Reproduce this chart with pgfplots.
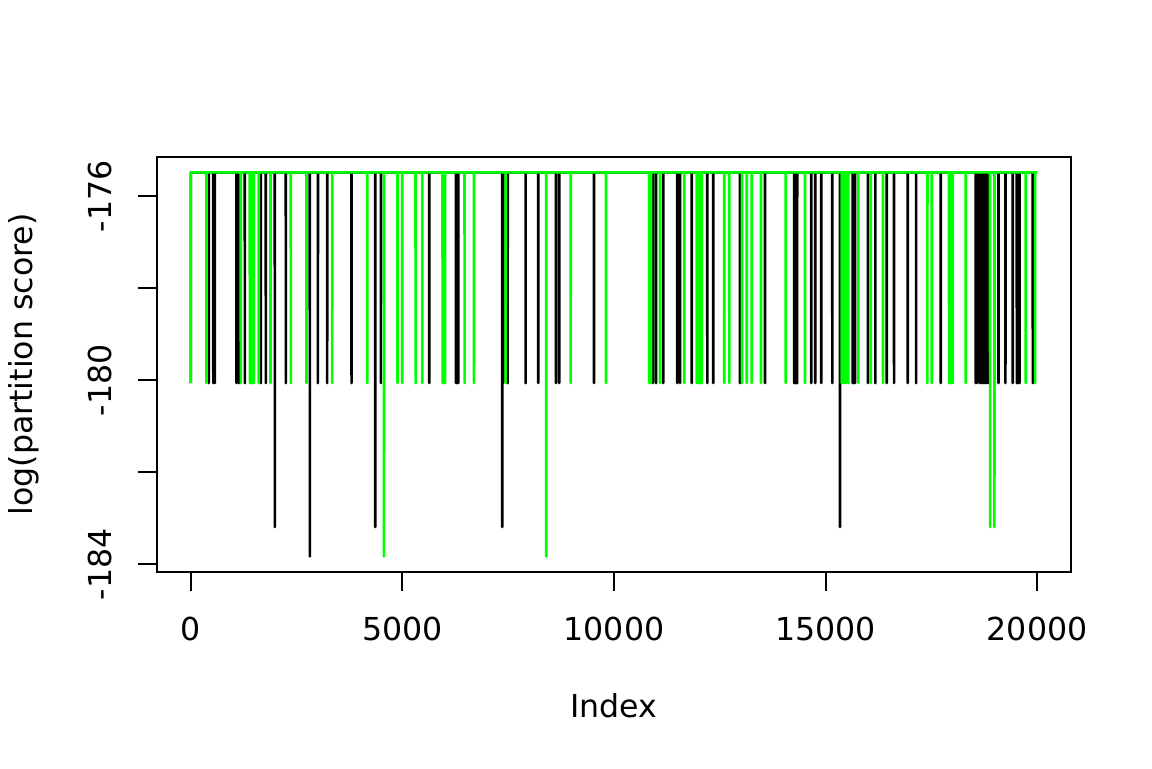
\documentclass[border=0pt]{standalone}
\usepackage{fontspec}
\setmainfont{DejaVu Sans}
\usepackage{pgfplots}
\usepackage{pgfplotstable}
\pgfplotsset{compat=1.18}
\definecolor{rgreen}{RGB}{0,255,0}
% T = -175.48 (plateau), L = -180.06, D1 = -183.19, D2 = -183.83
\pgfplotstableread{
x y
1 -180.06
2 -175.48
425 -175.48
426 -180.06
427 -175.48
531 -175.48
532 -180.06
533 -175.48
566 -175.48
567 -180.06
568 -175.48
1079 -175.48
1080 -180.06
1081 -175.48
1134 -175.48
1135 -180.06
1136 -175.48
1276 -175.48
1277 -180.06
1278 -175.48
1654 -175.48
1655 -180.06
1656 -175.48
1772 -175.48
1773 -180.06
1774 -175.48
1985 -175.48
1986 -183.19
1987 -175.48
2245 -175.48
2246 -180.06
2247 -175.48
2812 -175.48
2813 -183.83
2814 -175.48
3002 -175.48
3003 -180.06
3004 -175.48
3221 -175.48
3222 -180.06
3223 -175.48
3798 -175.48
3799 -180.06
3800 -175.48
4356 -175.48
4357 -183.19
4358 -175.48
4491 -175.48
4492 -180.06
4493 -175.48
5632 -175.48
5633 -180.06
5634 -175.48
6264 -175.48
6265 -180.06
6266 -175.48
6289 -175.48
6290 -180.06
6291 -175.48
6318 -175.48
6319 -180.06
6320 -175.48
7358 -175.48
7359 -183.19
7360 -175.48
7382 -175.48
7383 -180.06
7384 -175.48
7486 -175.48
7487 -180.06
7488 -175.48
7911 -175.48
7912 -180.06
7913 -175.48
8209 -175.48
8210 -180.06
8211 -175.48
8628 -175.48
8629 -180.06
8630 -175.48
8706 -175.48
8707 -180.06
8708 -175.48
9526 -175.48
9527 -180.06
9528 -175.48
10914 -175.48
10915 -180.06
10916 -175.48
10992 -175.48
10993 -180.06
10994 -175.48
11164 -175.48
11165 -180.06
11166 -175.48
11495 -175.48
11496 -180.06
11497 -175.48
11559 -175.48
11560 -180.06
11561 -175.48
11836 -175.48
11837 -180.06
11838 -175.48
12205 -175.48
12206 -180.06
12207 -175.48
12346 -175.48
12347 -180.06
12348 -175.48
12977 -175.48
12978 -180.06
12979 -175.48
13568 -175.48
13569 -180.06
13570 -175.48
14256 -175.48
14257 -180.06
14258 -175.48
14280 -175.48
14281 -180.06
14282 -175.48
14304 -175.48
14305 -180.06
14306 -175.48
14327 -175.48
14328 -180.06
14329 -175.48
14660 -175.48
14661 -180.06
14662 -175.48
14754 -175.48
14755 -180.06
14756 -175.48
14896 -175.48
14897 -180.06
14898 -175.48
15159 -175.48
15160 -180.06
15161 -175.48
15341 -175.48
15342 -183.19
15343 -175.48
15642 -175.48
15643 -180.06
15644 -175.48
15669 -175.48
15670 -180.06
15671 -175.48
15696 -175.48
15697 -180.06
15698 -175.48
16003 -175.48
16004 -180.06
16005 -175.48
16176 -175.48
16177 -180.06
16178 -175.48
16445 -175.48
16446 -180.06
16447 -175.48
16618 -175.48
16619 -180.06
16620 -175.48
16942 -175.48
16943 -180.06
16944 -175.48
17139 -175.48
17140 -180.06
17141 -175.48
17722 -175.48
17723 -180.06
17724 -175.48
18549 -175.48
18550 -180.06
18551 -175.48
18585 -175.48
18586 -180.06
18587 -175.48
18651 -175.48
18652 -180.06
18653 -175.48
18691 -175.48
18692 -180.06
18693 -175.48
18729 -175.48
18730 -180.06
18731 -175.48
18769 -175.48
18770 -180.06
18771 -175.48
18808 -175.48
18809 -180.06
18810 -175.48
18847 -175.48
18848 -180.06
18849 -175.48
19084 -175.48
19085 -180.06
19086 -175.48
19249 -175.48
19250 -180.06
19251 -175.48
19424 -175.48
19425 -180.06
19426 -175.48
19519 -175.48
19520 -180.06
19521 -175.48
19549 -175.48
19550 -180.06
19551 -175.48
19580 -175.48
19581 -180.06
19582 -175.48
19897 -175.48
19898 -180.06
19899 -175.48
20000 -175.48
}\blackseries
\pgfplotstableread{
x y
1 -180.06
2 -175.48
370 -175.48
371 -180.06
372 -175.48
1181 -175.48
1182 -180.06
1183 -175.48
1394 -175.48
1395 -180.06
1396 -175.48
1425 -175.48
1426 -180.06
1427 -175.48
1457 -175.48
1458 -180.06
1459 -175.48
1488 -175.48
1489 -180.06
1490 -175.48
1606 -175.48
1607 -180.06
1608 -175.48
1883 -175.48
1884 -180.06
1885 -175.48
2363 -175.48
2364 -180.06
2365 -175.48
2734 -175.48
2735 -180.06
2736 -175.48
3339 -175.48
3340 -180.06
3341 -175.48
4167 -175.48
4168 -180.06
4169 -175.48
4562 -175.48
4563 -183.83
4564 -175.48
4885 -175.48
4886 -180.06
4887 -175.48
4994 -175.48
4995 -180.06
4996 -175.48
5311 -175.48
5312 -180.06
5313 -175.48
5467 -175.48
5468 -180.06
5469 -175.48
5949 -175.48
5950 -180.06
5951 -175.48
5980 -175.48
5981 -180.06
5982 -175.48
6004 -175.48
6005 -180.06
6006 -175.48
6469 -175.48
6470 -180.06
6471 -175.48
6689 -175.48
6690 -180.06
6691 -175.48
7439 -175.48
7440 -180.06
7441 -175.48
8398 -175.48
8399 -183.83
8400 -175.48
8975 -175.48
8976 -180.06
8977 -175.48
9810 -175.48
9811 -180.06
9812 -175.48
10833 -175.48
10834 -180.06
10835 -175.48
10853 -175.48
10854 -180.06
10855 -175.48
10873 -175.48
10874 -180.06
10875 -175.48
11086 -175.48
11087 -180.06
11088 -175.48
11661 -175.48
11662 -180.06
11663 -175.48
11954 -175.48
11955 -180.06
11956 -175.48
11985 -175.48
11986 -180.06
11987 -175.48
12015 -175.48
12016 -180.06
12017 -175.48
12046 -175.48
12047 -180.06
12048 -175.48
12072 -175.48
12073 -180.06
12074 -175.48
12606 -175.48
12607 -180.06
12608 -175.48
12725 -175.48
12726 -180.06
12727 -175.48
13025 -175.48
13026 -180.06
13027 -175.48
13136 -175.48
13137 -180.06
13138 -175.48
13254 -175.48
13255 -180.06
13256 -175.48
13474 -175.48
13475 -180.06
13476 -175.48
14058 -175.48
14059 -180.06
14060 -175.48
14514 -175.48
14515 -180.06
14516 -175.48
15382 -175.48
15383 -180.06
15384 -175.48
15413 -175.48
15414 -180.06
15415 -175.48
15448 -175.48
15449 -180.06
15450 -175.48
15484 -175.48
15485 -180.06
15486 -175.48
15538 -175.48
15539 -180.06
15540 -175.48
15774 -175.48
15775 -180.06
15776 -175.48
16067 -175.48
16068 -180.06
16069 -175.48
16358 -175.48
16359 -180.06
16360 -175.48
17405 -175.48
17406 -180.06
17407 -175.48
17509 -175.48
17510 -180.06
17511 -175.48
17918 -175.48
17919 -180.06
17920 -175.48
17947 -175.48
17948 -180.06
17949 -175.48
17975 -175.48
17976 -180.06
17977 -175.48
18006 -175.48
18007 -180.06
18008 -175.48
18313 -175.48
18314 -180.06
18315 -175.48
18887 -175.48
18888 -183.19
18889 -175.48
18989 -175.48
18990 -183.19
18991 -175.48
19731 -175.48
19732 -180.06
19733 -175.48
19951 -175.48
19952 -180.06
19953 -175.48
20000 -175.48
}\greenseries
\begin{document}
\fontsize{11.9}{14.3}\selectfont
\begin{tikzpicture}
\begin{axis}[
  at={(0,0)}, anchor=south west,
  scale only axis, width=344.04pt, height=156.21pt,
  xmin=-799, xmax=20800, ymin=-184.1676, ymax=-175.1448,
  scaled ticks=false,
  axis line style={line width=0.75pt, black},
  every tick/.style={black, line width=0.75pt},
  tick align=outside, major tick length=7.2pt,
  tick pos=left,
  xtick={0,5000,10000,15000,20000},
  xticklabels={0,5000,10000,15000,20000},
  ytick={-184,-182,-180,-178,-176},
  yticklabels={-184,,-180,,-176},
  xticklabel style={anchor=base, yshift=-18.7pt},
  yticklabel style={xshift=-10.1pt, rotate=90, anchor=base},
  xlabel={Index},
  ylabel={log(partition score)},
  xlabel style={at={(axis description cs:0.5,-0.3508)}, anchor=base},
  ylabel style={at={(axis description cs:-0.1357,0.5)}, anchor=base},
  clip=true,
]
\addplot[black, line width=1.0pt, line join=round, mark=none] table[x=x,y=y] {\blackseries};
\addplot[rgreen, line width=1.0pt, line join=round, mark=none] table[x=x,y=y] {\greenseries};
\end{axis}
\pgfresetboundingbox
\path[use as bounding box] (-59.10pt,-73.78pt) rectangle (374.53pt,215.31pt);
\end{tikzpicture}
\end{document}
